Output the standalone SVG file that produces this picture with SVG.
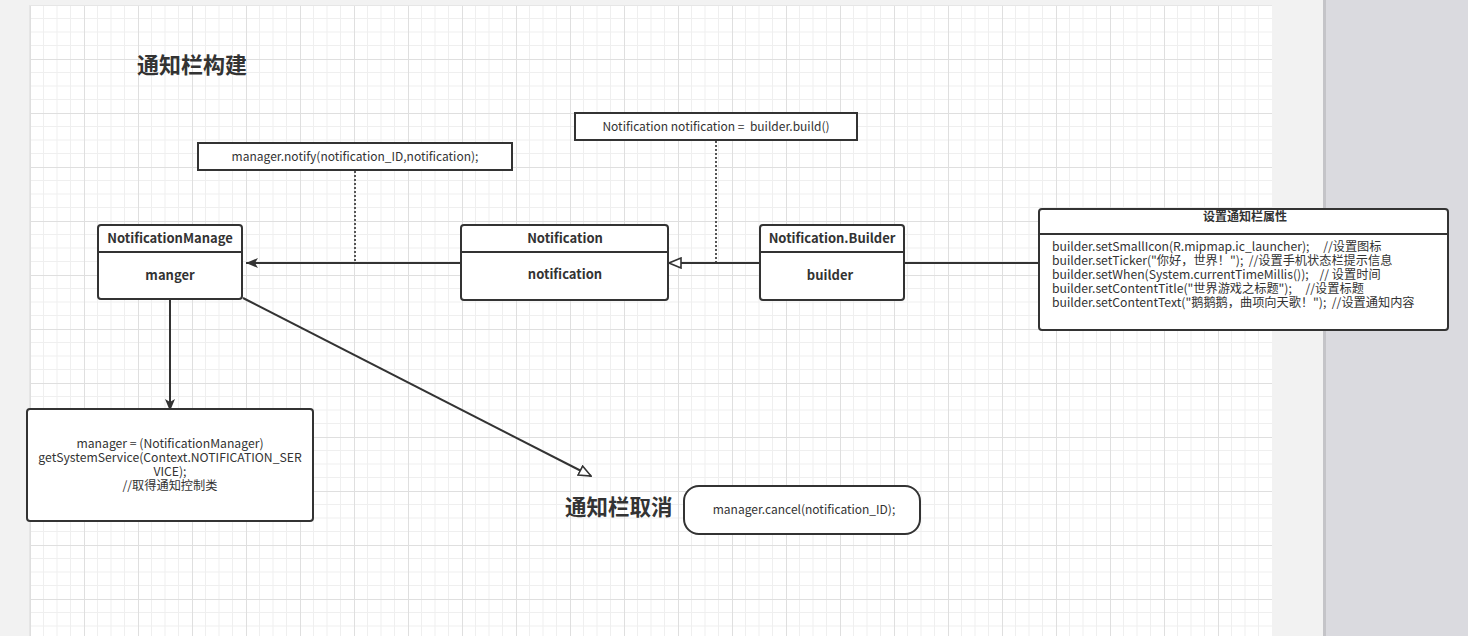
<svg xmlns="http://www.w3.org/2000/svg" width="1468" height="636" viewBox="0 0 1468 636">
<style>
.txt{font-family:"Noto Sans CJK SC","Liberation Sans",sans-serif;fill:#333;}
.n{font-size:12px;}
.m{font-size:12.2px;}
.b{font-size:13px;font-weight:bold;}
.box{fill:#fff;stroke:#333;stroke-width:2;}
.sep{stroke:#333;stroke-width:2;fill:none;}
.con{stroke:#333;stroke-width:2;fill:none;}
.dot{stroke:#555;stroke-width:2;stroke-dasharray:2 2;fill:none;}
</style>
<defs>
<pattern id="grid" x="30" y="5" width="54" height="54" patternUnits="userSpaceOnUse">
<path d="M13.5 0V54M27 0V54M40.5 0V54M0 13.5H54M0 27H54M0 40.5H54" stroke="#efefef" stroke-width="1"/>
<path d="M0.5 0V54M0 0.5H54" stroke="#dfdfdf" stroke-width="1"/>
</pattern>
<marker id="fill" viewBox="0 0 12 10" refX="12" refY="5" markerWidth="13" markerHeight="10" markerUnits="userSpaceOnUse" orient="auto">
<path d="M0,0 L12,5 L0,10 L3,5 z" fill="#333"/>
</marker>
<marker id="open" viewBox="0 0 14 12" refX="13" refY="6" markerWidth="14" markerHeight="12" markerUnits="userSpaceOnUse" orient="auto">
<path d="M1,1 L13,6 L1,11 z" fill="#fff" stroke="#333" stroke-width="1.6"/>
</marker>
</defs>
<rect x="0" y="0" width="1468" height="636" fill="#f2f2f2"/>
<rect x="1325" y="0" width="143" height="636" fill="#dadadf"/>
<rect x="1323" y="0" width="3" height="636" fill="#c4c4c8"/>
<rect x="29" y="5" width="1243" height="631" fill="#e6e6e6"/>
<rect x="30" y="6" width="1242" height="630" fill="#fff"/>
<rect x="30" y="6" width="1242" height="630" fill="url(#grid)"/>

<g id="title-build"><text class="txt" x="137" y="73" font-size="22" font-weight="bold">通知栏构建</text></g>

<g id="connectors">
<path class="dot" d="M355,171 V263"/>
<path class="dot" d="M716,141 V263"/>
<path class="con" d="M461,263 H246" marker-end="url(#fill)"/>
<path class="con" d="M760,263 H669" marker-end="url(#open)"/>
<path class="con" d="M904,263 H1039"/>
<path class="con" d="M170,300 V411" marker-end="url(#fill)"/>
<path class="con" d="M243,298 L591,476" marker-end="url(#open)"/>
</g>

<g id="note-notify">
<rect class="box" x="198" y="143" width="314" height="27"/>
<text class="txt n" x="355" y="161" text-anchor="middle">manager.notify(notification_ID,notification);</text>
</g>
<g id="note-build">
<rect class="box" x="575" y="113" width="282" height="27"/>
<text class="txt n" x="716" y="131" text-anchor="middle" xml:space="preserve">Notification notification =  builder.build()</text>
</g>

<g id="node-manager">
<rect class="box" x="98" y="225" width="144" height="74" rx="3"/>
<path class="sep" d="M98,252 H242"/>
<text class="txt b" x="170" y="243" text-anchor="middle">NotificationManage</text>
<text class="txt b" x="170" y="280" text-anchor="middle">manger</text>
</g>
<g id="node-notification">
<rect class="box" x="461" y="225" width="207" height="75" rx="3"/>
<path class="sep" d="M461,252 H668"/>
<text class="txt b" x="565" y="243" text-anchor="middle">Notification</text>
<text class="txt b" x="565" y="279" text-anchor="middle">notification</text>
</g>
<g id="node-builder">
<rect class="box" x="760" y="225" width="144" height="75" rx="3"/>
<path class="sep" d="M760,252 H904"/>
<text class="txt b" x="832" y="243" text-anchor="middle">Notification.Builder</text>
<text class="txt b" x="830" y="280" text-anchor="middle">builder</text>
</g>
<g id="node-settings">
<rect class="box" x="1039" y="209" width="409" height="121" rx="3"/>
<path class="sep" d="M1039,234 H1448"/>
<text class="txt" x="1245" y="221" text-anchor="middle" font-size="12" font-weight="bold">设置通知栏属性</text>
<text class="txt m" xml:space="preserve"><tspan x="1052" y="251">builder.setSmallIcon(R.mipmap.ic_launcher);     //设置图标</tspan><tspan x="1052" y="265">builder.setTicker("你好，世界！");  //设置手机状态栏提示信息</tspan><tspan x="1052" y="279">builder.setWhen(System.currentTimeMillis());    // 设置时间</tspan><tspan x="1052" y="293">builder.setContentTitle("世界游戏之标题");     //设置标题</tspan><tspan x="1052" y="307">builder.setContentText("鹅鹅鹅，曲项向天歌！");  //设置通知内容</tspan></text>
</g>
<g id="node-getservice">
<rect class="box" x="27" y="409" width="286" height="112" rx="3"/>
<text class="txt m" text-anchor="middle"><tspan x="170" y="448">manager = (NotificationManager)</tspan><tspan x="170" y="462">getSystemService(Context.NOTIFICATION_SER</tspan><tspan x="170" y="476">VICE);</tspan><tspan x="170" y="490">//取得通知控制类</tspan></text>
</g>
<g id="title-cancel"><text class="txt" x="565" y="515" font-size="21.5" font-weight="bold">通知栏取消</text></g>
<g id="node-cancel">
<rect class="box" x="684" y="486" width="236" height="48" rx="15"/>
<text class="txt n" x="804" y="514" text-anchor="middle">manager.cancel(notification_ID);</text>
</g>
</svg>
